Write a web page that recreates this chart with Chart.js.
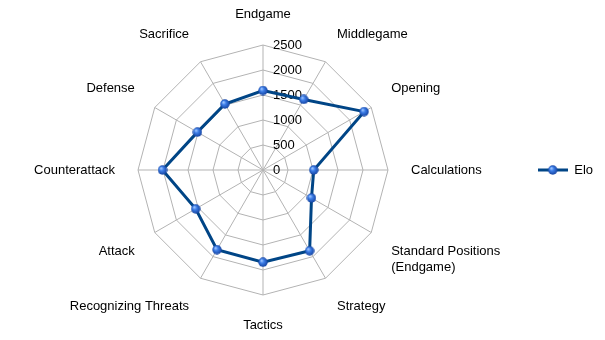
<!DOCTYPE html>
<html>
<head>
<meta charset="utf-8">
<script src="https://cdn.jsdelivr.net/npm/chart.js@4/dist/chart.umd.min.js"></script>
<style>
  html, body { margin: 0; padding: 0; background: #fff; }
  #wrap { width: 605px; height: 340px; }
</style>
</head>
<body>
<div id="wrap"><canvas id="myChart" width="605" height="340"></canvas></div>
<script>
const skills = [
  "Endgame", "Middlegame", "Opening", "Calculations",
  ["Standard Positions", "(Endgame)"], "Strategy", "Tactics",
  "Recognizing Threats", "Attack", "Counterattack", "Defense", "Sacrifice"
];
const eloValues = [1590, 1630, 2335, 1015, 1120, 1865, 1845, 1840, 1555, 2010, 1515, 1525];
const seriesName = "Elo";
const tickMin = 0;
const tickMax = 2500;
const tickStep = 500;

const lineColor = "#004586";
const gridColor = "#b3b3b3";
const textFont = { family: "'Liberation Sans', Arial, sans-serif", size: 13 };

// shaded ball used for the markers
const makeBall = (size) => {
  const c = document.createElement("canvas");
  c.width = size;
  c.height = size;
  const g = c.getContext("2d");
  const r = size / 2;
  const grad = g.createRadialGradient(r * 0.7, r * 0.65, 0.5, r, r, r);
  grad.addColorStop(0, "#9cc4ff");
  grad.addColorStop(0.35, "#3d7ee8");
  grad.addColorStop(1, "#123f9c");
  g.fillStyle = grad;
  g.beginPath();
  g.arc(r, r, r - 0.3, 0, Math.PI * 2);
  g.fill();
  return c;
};

const ball = makeBall(10);

// legend swatch: line with a ball in the middle
const legendSwatch = (() => {
  const c = document.createElement("canvas");
  c.width = 30;
  c.height = 10;
  const g = c.getContext("2d");
  g.strokeStyle = lineColor;
  g.lineWidth = 3;
  g.beginPath();
  g.moveTo(0, 5);
  g.lineTo(30, 5);
  g.stroke();
  g.drawImage(ball, 10, 0);
  return c;
})();

// radial scale with a fixed centre and radius
class FixedRadialScale extends Chart.RadialLinearScale {
  setCenterPoint() {
    this.xCenter = 263;
    this.yCenter = 170;
    this.drawingArea = 125;
  }
}
FixedRadialScale.id = "fixedRadial";
Chart.register(FixedRadialScale);

// value labels to the right of the vertical spoke, including 0
const tickLabels = {
  id: "tickLabels",
  beforeDatasetsDraw(chart) {
    const scale = chart.scales.r;
    const ctx = chart.ctx;
    ctx.save();
    ctx.font = `${textFont.size}px ${textFont.family}`;
    ctx.fillStyle = "#000";
    ctx.textAlign = "left";
    ctx.textBaseline = "middle";
    scale.ticks.forEach(t => {
      const d = scale.getDistanceFromCenterForValue(t.value);
      ctx.fillText(String(t.value), scale.xCenter + 10, scale.yCenter - d);
    });
    ctx.restore();
  }
};

const ctx = document.getElementById("myChart").getContext("2d");
new Chart(ctx, {
  type: "radar",
  data: {
    labels: skills,
    datasets: [
      {
        label: seriesName,
        data: eloValues,
        borderColor: lineColor,
        borderWidth: 3,
        backgroundColor: "rgba(0,0,0,0)",
        fill: false,
        pointStyle: ball,
        pointRadius: 5,
        pointHoverRadius: 5,
      },
    ],
  },
  options: {
    responsive: false,
    devicePixelRatio: 1,
    animation: false,
    layout: { padding: { right: 2 } },
    plugins: {
      tooltip: { enabled: false },
      legend: {
        position: "right",
        labels: {
          usePointStyle: true,
          pointStyleWidth: 30,
          color: "#000",
          font: textFont,
          padding: 10,
          generateLabels: (chart) => [{
            text: seriesName,
            pointStyle: legendSwatch,
            fillStyle: lineColor,
            strokeStyle: lineColor,
            lineWidth: 0,
            datasetIndex: 0,
          }],
        },
      },
    },
    scales: {
      r: {
        type: "fixedRadial",
        min: tickMin,
        max: tickMax,
        beginAtZero: true,
        ticks: { stepSize: tickStep, display: false },
        grid: { color: gridColor, lineWidth: 1 },
        angleLines: { color: gridColor, lineWidth: 1 },
        pointLabels: { color: "#000", font: textFont, padding: 23 },
      },
    },
  },
  plugins: [tickLabels],
});
</script>
</body>
</html>
